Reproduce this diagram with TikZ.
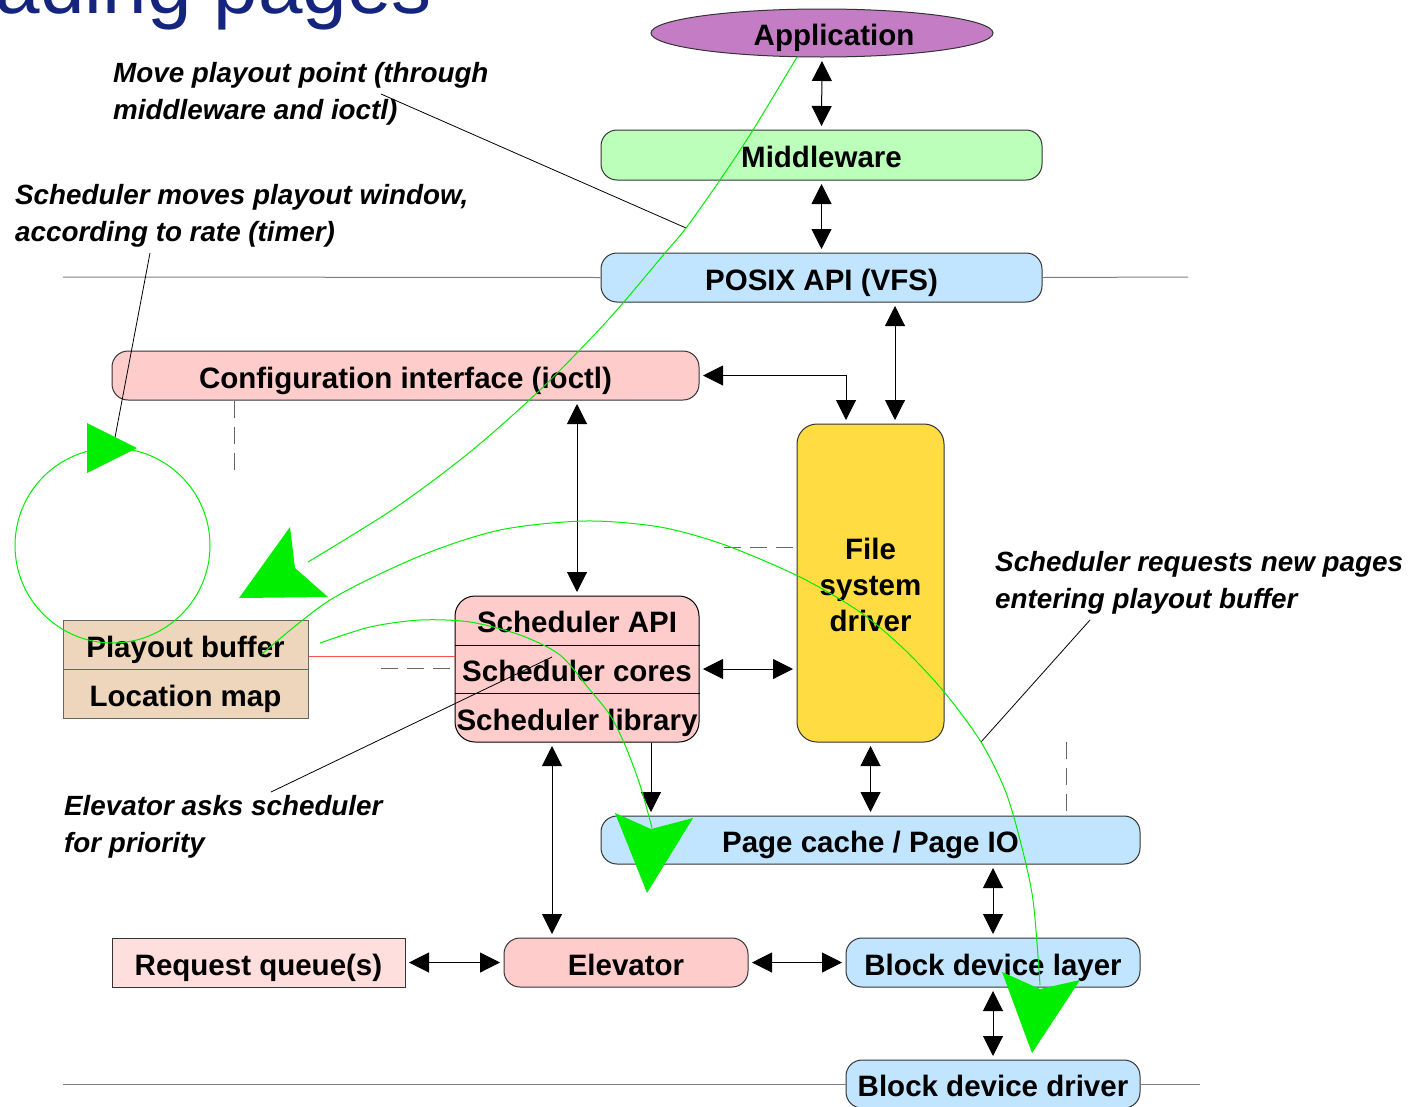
\documentclass[tikz,border=0pt]{standalone}
\usepackage{fontspec}
\setmainfont{Liberation Sans}
\usetikzlibrary{arrows.meta,shapes.geometric}

\definecolor{titleblue}{HTML}{15257E}
\definecolor{appfill}{HTML}{C47DC4}
\definecolor{mwfill}{HTML}{BBFFBB}
\definecolor{bluefill}{HTML}{C2E5FF}
\definecolor{pinkfill}{HTML}{FFCCCC}
\definecolor{queuefill}{HTML}{FFDEDE}
\definecolor{fsfill}{HTML}{FFDD42}
\definecolor{tanfill}{HTML}{EED6BC}
\definecolor{edge}{HTML}{333333}
\definecolor{rule}{HTML}{7F7F7F}
\definecolor{flow}{HTML}{00EE00}
\definecolor{redlink}{HTML}{FF5050}

\tikzset{
  lbl/.style={font=\fontsize{29.5}{33}\selectfont\bfseries, text height=25pt, text depth=0pt, inner sep=0pt},
  note/.style={font=\fontsize{27.8}{36.5}\selectfont\bfseries\itshape, align=left, inner sep=0pt, anchor=north west},
  layer/.style={draw=edge, line width=1pt, rounded corners=16pt, lbl},
  plainbox/.style={draw=edge, line width=1pt, lbl},
  link/.style={line width=1pt, draw=black, {Triangle[length=20pt,width=20pt]}-{Triangle[length=20pt,width=20pt]}, shorten <=3.5pt, shorten >=3.5pt},
  onelink/.style={line width=1pt, draw=black, -{Triangle[length=20pt,width=20pt]}, shorten >=3.5pt},
  hrule/.style={draw=rule, line width=1pt},
  dashrule/.style={draw=black!60, line width=1pt, dash pattern=on 17pt off 9pt},
  leader/.style={draw=black, line width=0.8pt},
  flowline/.style={draw=flow, line width=1pt},
  flowhead/.style={fill=flow, draw=none},
}

\begin{document}
\begin{tikzpicture}[x=1pt,y=-1pt]
\useasboundingbox (0,0) rectangle (1412,1106);
\clip (0,0) rectangle (1412,1106);

% slide title, running off the top edge
\node[anchor=base east, inner sep=0pt, font=\fontsize{80}{90}\selectfont, text=titleblue] (title) at (432,13) {ading pages};

% layer boxes
\node[ellipse, draw=edge, line width=1pt, fill=appfill, minimum width=342pt, minimum height=48pt, inner sep=0pt,
      label={[lbl, xshift=12pt]center:Application}] (app) at (822,33) {};
\node[layer, fill=mwfill, minimum width=441pt, minimum height=50pt] (mw) at (821.5,155) {Middleware};
\node[layer, fill=bluefill, minimum width=441pt, minimum height=49pt] (posix) at (821.5,277.5) {POSIX API (VFS)};
\node[layer, fill=pinkfill, minimum width=587pt, minimum height=49pt] (cfg) at (405.5,375.5) {Configuration interface (ioctl)};
\node[draw=edge, line width=1pt, rounded corners=20pt, fill=fsfill, minimum width=147pt, minimum height=318pt, inner sep=0pt] (fs) at (870.5,583) {};
\node[font=\fontsize{29.5}{36}\selectfont\bfseries, align=center, inner sep=0pt] (fstext) at (870.5,585) {File\\system\\driver};

% scheduler block with three parts
\node[draw=black, line width=1pt, rounded corners=20pt, fill=pinkfill, minimum width=244pt, minimum height=146pt, inner sep=0pt] (sched) at (577,669) {};
\draw[line width=1pt] (sched.west |- 0,645) -- (sched.east |- 0,645);
\draw[line width=1pt] (sched.west |- 0,693) -- (sched.east |- 0,693);
\node[lbl] (schedapi) at (577,620) {Scheduler API};
\node[lbl] (schedcores) at (577,669) {Scheduler cores};
\node[lbl] (schedlib) at (577,718) {Scheduler library};

% playout buffer and location map
\node[draw=black!60, line width=1pt, fill=tanfill, minimum width=245pt, minimum height=49pt, lbl] (pb) at (185.5,644.5) {Playout buffer};
\node[draw=black!60, line width=1pt, fill=tanfill, minimum width=245pt, minimum height=49pt, lbl] (lm) at (185.5,693.5) {Location map};

\node[layer, fill=bluefill, minimum width=539pt, minimum height=48pt] (pc) at (870.5,840) {Page cache / Page IO};
\node[layer, fill=bluefill, minimum width=294pt, minimum height=49pt] (bdl) at (993,962.5) {Block device layer};
\node[layer, fill=bluefill, minimum width=294pt, minimum height=48pt] (bdd) at (993,1084) {Block device driver};
\node[plainbox, fill=queuefill, minimum width=293pt, minimum height=49pt] (rq) at (258.5,962.5) {Request queue(s)};
\node[layer, fill=pinkfill, minimum width=244pt, minimum height=49pt] (elev) at (626,962.5) {Elevator};

% boundary rules
\draw[hrule] (63,277) -- (posix.west);
\draw[hrule] (posix.east) -- (1188,277);
\draw[hrule] (63,1084) -- (bdd.west);
\draw[hrule] (bdd.east) -- (1200,1084);

% dashed stubs
\coordinate (cfgstub) at (234,472);
\coordinate (fsstub) at (724,547);
\coordinate (schedstub) at (381,668);
\coordinate (pcstub) at (1066,742);
\draw[dashrule] (cfg.south -| cfgstub) -- (cfgstub);
\draw[dashrule] (fsstub) -- (fs.west |- fsstub);
\draw[dashrule] (schedstub) -- (sched.west |- schedstub);
\draw[dashrule] (pcstub) -- (pc.north -| pcstub);

% playout buffer to scheduler
\coordinate (redy) at (0,656);
\draw[draw=redlink, line width=1pt] (pb.east |- redy) -- (sched.west |- redy);

% call paths
\draw[link] (app.south) -- (mw.north);
\draw[link] (mw.south) -- (posix.north);
\draw[link] ([xshift=73.5pt]posix.south) -- ([xshift=24.5pt]fs.north);
\draw[link] (cfg.east) -| ([xshift=-24.5pt]fs.north);
\draw[link] (cfg.south -| sched.north) -- (sched.north);
\draw[link] (sched.east) -- (sched.east -| fs.west);
\draw[onelink] ([xshift=74pt]sched.south) -- ([xshift=74pt]sched.south |- pc.north);
\draw[link] (fs.south) -- (fs.south |- pc.north);
\draw[link] ([xshift=-25pt]sched.south) -- ([xshift=-25pt]sched.south |- elev.north);
\draw[link] (bdl.north |- pc.south) -- (bdl.north);
\draw[link] (rq.east) -- (elev.west);
\draw[link] (elev.east) -- (bdl.west);
\draw[link] (bdl.south) -- (bdd.north);

% annotations
\node[note] (n1) at (113,62.5) {Move playout point (through\\middleware and ioctl)};
\node[note] (n2) at (15,184.5) {Scheduler moves playout window,\\according to rate (timer)};
\node[note] (n3) at (995,551.5) {Scheduler requests new pages\\entering playout buffer};
\node[note] (n4) at (64,795.5) {Elevator asks scheduler\\for priority};

\coordinate (n1a) at (381,94);   \coordinate (n1b) at (686,228);
\coordinate (n2a) at (150,253);  \coordinate (n2b) at (113,448);
\coordinate (n3a) at (1090,620); \coordinate (n3b) at (981,742);
\coordinate (n4a) at (271,792);  \coordinate (n4b) at (552,657);
\draw[leader] (n1a) -- (n1b);
\draw[leader] (n2a) -- (n2b);
\draw[leader] (n3a) -- (n3b);
\draw[leader] (n4a) -- (n4b);

% green flows
\coordinate (loopc) at (112.5,545.5);
\draw[flowline] (loopc) circle[radius=97.5pt];
\fill[flowhead] (87,423) -- (137,448) -- (87,473) -- cycle;

\draw[flowline] plot[smooth] coordinates {(797,57) (753,130) (720,180) (686,228) (665,253) (608,320) (540,390) (470,452) (395,508) (308,562)};
\fill[flowhead] (239,598) -- (290,527) -- (295,568) -- (328,597) -- cycle;

\draw[flowline] plot[smooth] coordinates {(262,654) (330,600) (420,556) (500,530) (585,521) (660,527) (725,545) (800,577) (860,612) (905,650) (945,693) (981,742) (1005,790) (1020,840) (1033,900) (1040,985)};
\fill[flowhead] (1032,1053) -- (1002,972) -- (1040,989) -- (1080,980) -- cycle;

\draw[flowline] plot[smooth] coordinates {(320,643) (370,627) (420,620) (470,622) (520,635) (560,655) (590,690) (610,715) (625,745) (640,785) (652,828)};
\fill[flowhead] (647,893) -- (615,813) -- (651,829) -- (693,818) -- cycle;

\end{tikzpicture}
\end{document}
